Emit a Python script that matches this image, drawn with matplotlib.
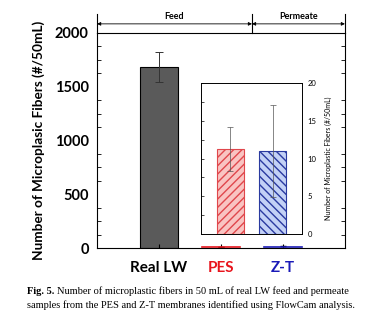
import matplotlib.pyplot as plt
from matplotlib.ticker import MultipleLocator

plt.rcParams['font.family'] = ['Lato', 'DejaVu Sans']

# samples and counts (#/50 mL)
samples = ['Real LW', 'PES', 'Z-T']
counts = [1680, 11.3, 11.0]
errors = [140, 2.9, 6.1]
label_colors = ['black', '#e8141c', '#1a1ab8']

# inset shows the two permeates only
inset_samples = ['PES', 'Z-T']
inset_counts = [11.3, 11.0]
inset_errors = [2.9, 6.1]

fig = plt.figure(figsize=(3.65, 3.29), dpi=100)
ax = fig.add_axes([0.266, 0.246, 0.679, 0.654])

x = range(len(samples))
ax.bar(0, counts[0], width=0.6, color='#5a5a5a', edgecolor='black', linewidth=0.8,
       yerr=errors[0], capsize=3, error_kw=dict(lw=0.7, capthick=0.7, ecolor='#333333'))
ax.errorbar([1, 2], counts[1:], yerr=errors[1:], fmt='none', ecolor='black', lw=0.6, capsize=2)
ax.plot([0.7, 1.3], [counts[1], counts[1]], color='#e8141c', lw=1.2)
ax.plot([1.7, 2.3], [counts[2], counts[2]], color='#1a1ab8', lw=1.2)

ax.set_xlim(-1.0, 3.0)
ax.set_ylim(0, 2000)
ax.set_xticks(list(x))
ax.set_xticklabels(samples, fontsize=11, fontweight='bold')
for t, c in zip(ax.get_xticklabels(), label_colors):
    t.set_color(c)
ax.yaxis.set_major_locator(MultipleLocator(500))
ax.yaxis.set_minor_locator(MultipleLocator(125))
ax.tick_params(axis='y', which='both', direction='in', right=True, labelsize=10.5)
ax.tick_params(axis='y', which='major', length=0, pad=6)
ax.tick_params(axis='y', which='minor', length=3)
ax.tick_params(axis='x', direction='in', length=3, pad=9)
for t in ax.get_yticklabels():
    t.set_fontweight('bold')
ax.set_ylabel('Number of Microplasic Fibers (#/50mL)', fontsize=9.8, fontweight='bold', labelpad=7)

# Feed / Permeate header above the plot
hdr = dict(transform=ax.transAxes, clip_on=False, color='black', lw=0.8)
ax.plot([0, 0], [1, 1.09], **hdr)
ax.plot([1, 1], [1, 1.09], **hdr)
xdiv = (1.5 - ax.get_xlim()[0]) / (ax.get_xlim()[1] - ax.get_xlim()[0])
ax.plot([xdiv, xdiv], [1, 1.09], **hdr)
arrow = dict(arrowstyle='<|-|>', color='black', lw=0.6, mutation_scale=5, shrinkA=0, shrinkB=0)
ax.annotate('', xy=(0, 1.042), xytext=(xdiv, 1.042), xycoords='axes fraction', arrowprops=arrow)
ax.annotate('', xy=(xdiv, 1.042), xytext=(1, 1.042), xycoords='axes fraction', arrowprops=arrow)
ax.text(xdiv / 2, 1.075, 'Feed', transform=ax.transAxes, ha='center', va='center', fontsize=6.5, fontweight='bold')
ax.text((xdiv + 1) / 2, 1.075, 'Permeate', transform=ax.transAxes, ha='center', va='center', fontsize=6.5, fontweight='bold')

# inset with the permeate bars
ins = fig.add_axes([201 / 365, 1 - 234 / 329, 101 / 365, 151 / 329])
ins.bar(0, inset_counts[0], width=0.62, color='#f9c4c2', edgecolor='#e0474c', hatch='////', linewidth=0.8)
ins.bar(1, inset_counts[1], width=0.62, color='#c3d1f6', edgecolor='#2a3aa0', hatch='\\\\\\\\', linewidth=0.8)
ins.errorbar([0, 1], inset_counts, yerr=inset_errors, fmt='none', ecolor='#555555', lw=0.5, capsize=2, capthick=0.5)
ins.set_xlim(-0.7, 1.7)
ins.set_ylim(0, 20)
ins.set_xticks([])
ins.yaxis.set_major_locator(MultipleLocator(5))
ins.yaxis.set_minor_locator(MultipleLocator(2.5))
ins.yaxis.tick_right()
ins.tick_params(axis='y', which='both', direction='in', left=True, right=False, length=2, width=0.5,
                labelsize=5.5, labelleft=False, labelright=True, pad=4)
ins.yaxis.set_label_position('right')
ins.set_ylabel('Number of Microplastic Fibers (#/50mL)', fontsize=5, labelpad=6)
for s in ins.spines.values():
    s.set_linewidth(0.7)

# caption
fig.text(27 / 365, 1 - 291 / 329, 'Fig. 5.', fontsize=7.5, family='Liberation Serif',
         fontweight='bold', va='center')
fig.text(57 / 365, 1 - 291 / 329, 'Number of microplastic fibers in 50 mL of real LW feed and permeate',
         fontsize=7.5, family='Liberation Serif', va='center')
fig.text(27 / 365, 1 - 305 / 329, 'samples from the PES and Z-T membranes identified using FlowCam analysis.',
         fontsize=7.5, family='Liberation Serif', va='center')

fig.savefig('out.png', dpi=100)
